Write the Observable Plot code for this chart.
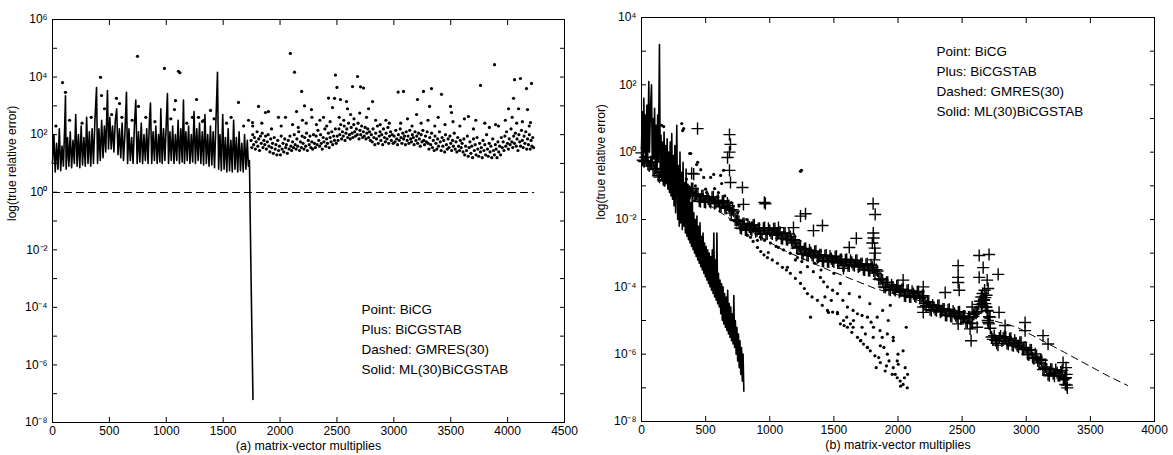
<!DOCTYPE html>
<html>
<head>
<meta charset="utf-8">
<script src="https://cdn.jsdelivr.net/npm/d3@7"></script>
<script src="https://cdn.jsdelivr.net/npm/@observablehq/plot@0.6"></script>
<style>
  html, body { margin: 0; padding: 0; background: #fff; }
  #wrap { display: flex; width: 1173px; height: 455px; }
</style>
</head>
<body>
<div id="wrap"></div>
<script>
// ---- Data (y values stored as log10 of the true relative error) ----
const legendLabels = ["Point: BiCG", "Plus: BiCGSTAB", "Dashed: GMRES(30)", "Solid: ML(30)BiCGSTAB"];
const xLabelA = "(a) matrix-vector multiplies";
const xLabelB = "(b) matrix-vector multiplies";
const yLabel = "log(true relative error)";
const xTicksA = [0, 500, 1000, 1500, 2000, 2500, 3000, 3500, 4000, 4500];
const xTicksB = [0, 500, 1000, 1500, 2000, 2500, 3000, 3500, 4000];
const yTicksA = [1e-8, 1e-7, 1e-6, 1e-5, 1e-4, 1e-3, 1e-2, 1e-1, 1e0, 1e1, 1e2, 1e3, 1e4, 1e5, 1e6];
const yTicksB = [1e-8, 1e-7, 1e-6, 1e-5, 1e-4, 1e-3, 1e-2, 1e-1, 1e0, 1e1, 1e2, 1e3, 1e4];

// Panel (a): ML(30)BiCGSTAB (solid)
const mlA = [[0,1.0],[12,2.0],[24,0.7],[36,1.7],[48,0.8],[60,2.2],[72,0.75],[84,1.6],[96,0.9],[108,2.4],[114,3.35],[120,0.8],[132,1.9],[144,0.9],[156,2.1],[168,0.85],[180,1.8],[192,1.0],[204,2.7],[216,0.9],[228,2.0],[240,0.85],[252,2.3],[264,0.95],[276,1.9],[288,0.9],[300,2.6],[312,1.0],[324,2.1],[336,0.9],[348,2.2],[360,1.0],[372,2.4],[387,3.64],[396,1.0],[408,2.2],[420,1.1],[432,2.5],[444,1.2],[456,2.3],[468,1.4],[483,3.53],[492,1.5],[504,2.6],[516,1.5],[528,2.3],[540,1.4],[552,2.5],[564,2.9],[576,1.3],[588,2.2],[600,1.2],[612,2.4],[624,1.1],[636,2.0],[650,3.47],[660,1.0],[672,2.2],[684,1.1],[696,1.9],[708,1.0],[720,2.3],[732,3.2],[744,1.0],[756,2.1],[768,1.05],[780,2.4],[792,1.0],[804,2.0],[816,1.1],[828,2.2],[840,1.0],[852,2.5],[861,3.1],[872,1.0],[884,2.1],[896,1.1],[908,2.3],[920,1.0],[932,2.0],[944,1.05],[952,2.9],[964,1.0],[976,2.2],[988,1.1],[1000,2.4],[1010,3.43],[1020,1.0],[1032,2.1],[1044,1.1],[1056,2.3],[1068,1.0],[1080,2.0],[1092,1.1],[1104,2.5],[1116,1.0],[1128,2.2],[1140,1.05],[1151,3.2],[1160,1.0],[1172,2.1],[1184,1.1],[1196,2.3],[1208,1.0],[1220,2.0],[1232,1.05],[1244,2.8],[1256,1.0],[1268,2.2],[1280,1.1],[1292,2.4],[1304,1.0],[1316,2.1],[1328,0.95],[1340,2.7],[1352,1.0],[1364,2.0],[1376,0.9],[1388,2.3],[1400,0.95],[1412,2.1],[1424,0.85],[1436,2.4],[1450,4.17],[1460,0.8],[1472,2.0],[1484,0.75],[1496,2.7],[1508,0.8],[1520,1.9],[1532,0.7],[1544,2.2],[1556,0.75],[1568,1.8],[1580,0.7],[1592,2.5],[1604,0.8],[1616,1.9],[1628,0.7],[1640,2.1],[1652,0.75],[1664,1.7],[1676,0.7],[1688,2.0],[1700,0.8],[1712,1.8],[1722,0.9],[1731,1.1],[1738,-1.0],[1746,-3.2],[1754,-5.2],[1762,-7.2]];

// Panel (a): GMRES(30) (dashed)
const gmresA = [[0,-0.01],[1000,-0.01],[2000,-0.01],[3000,-0.01],[4230,-0.01]];

// Panel (a): BiCG (points)
const bicgA = [
[88,3.81],[114,3.47],[422,3.99],[431,3.36],[457,2.9],[562,3.26],[589,3.08],[747,4.72],[756,2.98],[984,4.3],[1072,2.87],[1081,3.18],[1107,4.2],[1120,4.15],[1266,3.22],[1283,2.6],[1318,2.46],[1389,2.84],[1635,3.12],[1723,2.5],[1758,2.42],[1811,2.98],[1872,2.77],[1898,2.8],[1986,2.6],[2048,2.6],[2090,4.82],[2127,4.17],[2145,2.8],[2190,3.5],[2197,2.5],[2215,3.0],[2276,2.87],[2280,2.6],[2382,2.6],[2426,3.27],[2461,2.94],[2479,3.26],[2487,4.07],[2500,3.64],[2531,3.22],[2584,3.15],[2593,2.9],[2637,3.67],[2681,4.02],[2707,3.66],[2734,3.62],[2778,2.9],[2813,3.15],[3038,3.48],[3085,3.5],[3208,3.22],[3261,3.5],[3314,2.98],[3331,3.6],[3419,3.4],[3498,2.98],[3507,2.77],[3656,2.63],[3762,3.71],[3885,4.43],[3894,2.35],[4008,2.9],[4052,3.26],[4061,3.91],[4096,2.9],[4113,3.95],[4166,3.6],[4175,2.87],[4201,2.42],[4210,3.78],
[30,2.3],[150,2.5],[260,2.4],[340,2.6],[520,2.7],[610,2.6],[700,2.5],[820,2.6],[900,2.45],[1040,2.55],[1180,2.4],[1230,2.6],[1330,2.5],[1420,2.55],[1530,2.4],[1570,2.6],[1680,2.3],
[1760,2.3],[1840,2.4],[1925,2.2],[2010,2.3],[2110,2.35],[2160,2.25],[2230,2.4],[2320,2.35],[2350,2.5],[2410,2.3],[2440,2.45],[2520,2.6],[2560,2.5],[2620,2.7],[2650,2.55],[2700,2.75],[2760,2.6],[2840,2.5],[2880,2.35],[2930,2.5],[2960,2.4],[3060,2.4],[3120,2.55],[3160,2.3],[3200,2.7],[3240,2.4],[3300,2.5],[3360,2.3],[3390,2.6],[3450,2.35],[3520,2.45],[3580,2.3],[3620,2.55],[3700,2.2],[3720,2.5],[3800,2.4],[3840,2.25],[3920,2.3],[3980,2.5],[4040,2.6],[4080,2.4],[4130,2.45],[4190,2.3],
[1745,1.8],[1752,1.55],[1760,2.0],[1768,1.65],[1775,1.9],[1783,1.5],[1790,1.75],[1798,2.1],[1805,1.6],[1812,1.85],[1820,1.45],[1828,1.95],[1835,1.7],[1843,2.05],[1850,1.55],[1858,1.8],[1866,1.65],[1873,1.95],[1880,1.5],[1888,1.75],[1895,2.0],
[1903,1.6],[1911,1.4],[1918,1.85],[1926,1.55],[1934,1.7],[1941,1.35],[1949,1.9],[1957,1.5],[1964,1.65],[1972,1.3],[1980,1.8],[1987,1.45],[1995,1.6],[2003,1.3],[2010,1.95],[2018,1.5],[2026,1.7],[2033,1.4],[2041,1.85],[2049,1.55],[2056,1.65],[2064,1.35],[2072,1.8],[2079,1.5],[2087,1.95],[2095,1.6],
[2102,1.45],[2110,1.75],[2118,1.55],[2125,2.0],[2133,1.65],[2141,1.5],[2148,1.85],[2156,1.6],[2164,2.1],[2171,1.45],[2179,1.75],[2187,1.55],[2194,1.95],[2202,1.7],[2210,1.5],[2217,1.9],[2225,1.6],[2233,2.05],[2240,1.45],[2248,1.8],[2256,1.65],[2263,1.95],[2271,1.55],[2279,1.75],[2286,1.5],[2294,2.0],
[2302,1.7],[2310,1.55],[2317,1.95],[2325,1.65],[2333,2.15],[2340,1.8],[2348,1.6],[2356,2.0],[2363,1.7],[2371,1.5],[2379,1.9],[2386,1.75],[2394,2.2],[2402,1.6],[2409,1.85],[2417,1.7],[2425,2.05],[2432,1.55],[2440,1.9],[2448,1.75],[2455,2.1],[2463,1.65],[2471,1.95],[2478,1.8],[2486,2.2],[2494,1.7],
[2502,1.95],[2510,1.8],[2518,2.2],[2525,2.0],[2533,2.35],[2541,1.85],[2548,2.1],[2556,1.95],[2564,2.3],[2571,1.8],[2579,2.05],[2587,2.2],[2594,1.9],[2602,2.4],[2610,2.0],[2617,1.85],[2625,2.25],[2633,2.05],[2640,1.9],[2648,2.35],[2656,2.1],[2663,1.95],[2671,2.2],[2679,2.0],[2686,2.4],[2694,1.85],[2702,2.15],[2709,2.0],[2717,2.3],[2725,1.9],[2732,2.1],[2740,1.95],[2748,2.25],[2755,1.85],[2763,2.05],[2771,2.2],[2778,1.9],[2786,2.1],[2794,1.8],
[2802,2.0],[2810,1.75],[2817,2.2],[2825,1.9],[2833,1.65],[2840,2.05],[2848,1.85],[2856,2.3],[2863,1.7],[2871,1.95],[2879,2.1],[2886,1.8],[2894,2.0],[2902,1.65],[2909,2.2],[2917,1.9],[2925,1.75],[2932,2.05],[2940,1.85],[2948,2.25],[2955,1.7],[2963,1.95],[2971,2.1],[2978,1.8],[2986,2.0],[2994,1.7],
[3002,1.95],[3010,1.75],[3017,2.15],[3025,1.85],[3033,1.65],[3040,2.0],[3048,1.8],[3056,2.2],[3063,1.9],[3071,1.7],[3079,2.05],[3086,1.85],[3094,1.95],[3102,1.65],[3109,2.1],[3117,1.8],[3125,1.95],[3132,1.7],[3140,2.15],[3148,1.85],[3155,1.75],[3163,2.0],[3171,1.9],[3178,1.65],[3186,2.1],[3194,1.8],[3201,1.95],[3209,1.7],[3217,2.05],[3224,1.85],[3232,1.6],[3240,2.0],[3247,1.75],[3255,2.15],[3263,1.8],[3270,1.65],[3278,1.95],[3286,1.75],[3293,2.1],
[3301,1.7],[3309,1.5],[3316,1.9],[3324,1.65],[3332,2.05],[3339,1.55],[3347,1.8],[3355,1.45],[3362,1.95],[3370,1.7],[3378,1.5],[3385,1.85],[3393,1.6],[3401,2.1],[3408,1.75],[3416,1.45],[3424,1.9],[3431,1.6],[3439,1.8],[3447,1.4],[3454,2.0],[3462,1.65],[3470,1.5],[3477,1.85],[3485,1.55],[3493,1.95],[3500,1.7],[3508,1.45],[3516,1.8],[3523,1.6],[3531,2.05],[3539,1.5],[3546,1.75],[3554,1.4],[3562,1.9],[3569,1.6],[3577,1.45],[3585,1.8],[3592,1.55],
[3600,1.7],[3608,1.4],[3616,1.85],[3623,1.3],[3631,1.6],[3639,1.45],[3646,1.95],[3654,1.25],[3662,1.55],[3669,1.75],[3677,1.35],[3685,1.6],[3692,1.2],[3700,1.85],[3708,1.45],[3715,1.65],[3723,1.3],[3731,1.9],[3738,1.5],[3746,1.25],[3754,1.7],[3761,1.4],[3769,1.55],[3777,1.2],[3784,1.8],[3792,1.45],[3800,1.65],[3807,1.3],[3815,2.0],[3823,1.5],[3830,1.25],[3838,1.7],[3846,1.4],[3853,1.6],[3861,1.2],[3869,1.85],[3876,1.45],[3884,1.3],[3892,1.65],[3899,1.5],[3907,1.2],[3915,1.75],[3922,1.4],[3930,1.6],[3938,1.3],[3945,1.9],
[3953,1.55],[3961,1.75],[3968,1.45],[3976,1.95],[3984,1.6],[3991,2.1],[3999,1.7],[4007,1.5],[4014,1.85],[4022,1.65],[4030,2.2],[4037,1.75],[4045,1.55],[4053,1.95],[4060,1.7],[4068,2.05],[4076,1.6],[4083,1.85],[4091,1.45],[4099,2.0],[4106,1.75],[4114,1.6],[4122,2.15],[4129,1.8],[4137,1.55],[4145,1.95],[4152,1.7],[4160,2.1],[4168,1.5],[4175,1.85],[4183,1.65],[4191,2.0],[4198,1.5],[4206,1.8],[4214,1.6],[4221,1.9],[4228,1.55]
];

// Panel (b): ML(30)BiCGSTAB (solid)
const mlB = [[0,0.1],[6,1.2],[12,-0.2],[18,1.6],[24,0.0],[30,1.1],[36,-0.1],[42,1.4],[48,-0.2],[57,2.1],[62,0.0],[70,1.3],[78,2.0],[84,-0.3],[90,1.0],[96,-0.2],[102,1.3],[108,-0.4],[114,0.8],[120,-0.5],[126,1.1],[132,-0.3],[140,3.2],[146,-0.6],[152,0.5],[158,-0.8],[164,0.3],[170,-0.7],[176,0.6],[182,-1.0],[188,0.2],[194,-0.9],[200,0.4],[206,-1.1],[212,0.0],[218,-1.2],[224,0.3],[230,-1.3],[236,0.55],[242,-1.4],[248,-0.1],[254,-1.6],[260,0.2],[266,-1.8],[275,0.8],[282,-2.0],[288,-0.4],[294,-2.2],[300,0.0],[306,-2.1],[312,-0.6],[318,-2.3],[324,-0.3],[330,-2.2],[336,-0.9],[342,-2.4],[348,-0.5],[354,-2.5],[360,-1.2],[366,-2.6],[372,-1.0],[378,-2.7],[384,-1.5],[390,-2.8],[396,-1.3],[402,-2.9],[408,-1.8],[414,-3.0],[420,-2.0],[426,-3.1],[432,-1.9],[438,-3.2],[444,-2.2],[450,-3.3],[456,-2.1],[462,-3.4],[468,-2.5],[474,-3.5],[480,-2.4],[486,-3.6],[492,-2.7],[498,-3.7],[504,-2.8],[510,-3.8],[516,-2.9],[522,-3.9],[528,-3.0],[534,-4.0],[540,-3.1],[546,-4.1],[552,-2.9],[558,-4.2],[564,-2.4],[570,-4.3],[576,-3.2],[582,-4.4],[588,-2.4],[594,-4.5],[600,-3.6],[606,-4.6],[612,-3.8],[618,-4.8],[624,-3.9],[630,-5.0],[636,-4.0],[642,-5.1],[648,-4.2],[654,-5.2],[660,-4.3],[666,-5.3],[672,-4.1],[678,-5.4],[684,-4.5],[690,-5.5],[696,-4.6],[702,-5.6],[708,-4.8],[714,-5.7],[720,-4.26],[726,-5.8],[732,-5.0],[738,-6.0],[744,-5.2],[750,-6.2],[756,-5.4],[762,-6.4],[768,-5.6],[774,-6.6],[780,-5.8],[786,-6.8],[792,-6.0],[798,-7.1]];

// Panel (b): GMRES(30) (dashed)
const gmresB = [[0,-0.05],[300,-1.0],[700,-2.0],[1100,-2.9],[1459,-3.5],[1822,-4.05],[2300,-4.55],[2600,-4.85],[2928,-5.2],[3300,-5.95],[3629,-6.63],[3790,-6.93]];

// Panel (b): BiCGSTAB (plus)
const bicgstabB = [
[0,-0.02],[20,-0.28],[40,-0.25],[60,-0.41],[80,-0.30],[100,-0.51],[120,-0.50],[140,-0.74],[160,-0.60],[180,-0.85],[200,-0.79],[220,-0.92],[240,-0.80],[260,-0.99],[280,-0.94],[300,-1.14],[320,-0.97],[340,-1.19],[360,-1.11],[380,-1.22],[400,-1.08],[420,-1.28],[440,-1.25],[460,-1.47],[480,-1.29],[500,-1.49],[520,-1.39],[540,-1.49],[560,-1.33],[580,-1.50],[600,-1.43],[620,-1.62],[640,-1.45],[660,-1.67],[680,-1.59],[700,-1.81],[720,-1.75],[740,-2.03],[760,-2.06],[780,-2.27],[800,-2.12],[820,-2.32],[840,-2.22],[860,-2.32],[880,-2.16],[900,-2.33],[920,-2.26],[940,-2.44],[960,-2.24],[980,-2.43],[1000,-2.33],[1020,-2.43],[1040,-2.27],[1060,-2.44],[1080,-2.38],[1100,-2.57],[1120,-2.40],[1140,-2.60],[1160,-2.51],[1180,-2.70],[1200,-2.63],[1220,-2.84],[1240,-2.82],[1260,-3.03],[1280,-2.86],[1300,-3.07],[1320,-2.98],[1340,-3.09],[1360,-2.94],[1380,-3.11],[1400,-3.05],[1420,-3.24],[1440,-3.06],[1460,-3.26],[1480,-3.16],[1500,-3.26],[1520,-3.09],[1540,-3.25],[1560,-3.19],[1580,-3.37],[1600,-3.18],[1620,-3.38],[1640,-3.27],[1660,-3.37],[1680,-3.21],[1700,-3.38],[1720,-3.31],[1740,-3.50],[1760,-3.32],[1780,-3.52],[1800,-3.42],[1820,-3.59],[1840,-3.53],[1860,-3.78],[1880,-3.80],[1900,-4.02],[1920,-3.87],[1940,-4.10],[1960,-4.01],[1980,-4.11],[2000,-3.96],[2020,-4.13],[2040,-4.08],[2060,-4.27],[2080,-4.10],[2100,-4.30],[2120,-4.20],[2140,-4.30],[2160,-4.14],[2180,-4.31],[2200,-4.27],[2220,-4.56],[2240,-4.47],[2260,-4.71],[2280,-4.61],[2300,-4.71],[2320,-4.55],[2340,-4.72],[2360,-4.66],[2380,-4.85],[2400,-4.67],[2420,-4.88],[2440,-4.79],[2460,-4.89],[2480,-4.74],[2500,-4.92],[2520,-4.87],[2540,-5.06],[2560,-4.89],[2580,-5.09],[2600,-4.78],[2620,-4.74],[2640,-4.43],[2660,-4.49],[2680,-4.32],[2700,-4.72],[2720,-5.23],[2740,-5.56],[2760,-5.59],[2780,-5.73],[2800,-5.46],[2820,-5.53],[2840,-5.49],[2860,-5.70],[2880,-5.53],[2900,-5.75],[2920,-5.67],[2940,-5.79],[2960,-5.65],[2980,-5.84],[3000,-5.81],[3020,-6.02],[3040,-5.88],[3060,-6.13],[3080,-6.09],[3100,-6.26],[3120,-6.18],[3140,-6.42],[3160,-6.44],[3180,-6.64],[3200,-6.45],[3220,-6.65],[3240,-6.55],[3260,-6.64],[3280,-6.48],[3300,-6.72],[3310,-6.70],[3317,-6.92],
[10,-0.24],[30,-0.15],[50,-0.35],[70,-0.29],[90,-0.52],[110,-0.48],[130,-0.70],[150,-0.59],[170,-0.82],[190,-0.70],[210,-0.87],[230,-0.79],[250,-1.01],[270,-0.94],[290,-1.13],[310,-0.98],[330,-1.17],[350,-1.03],[370,-1.19],[390,-1.08],[410,-1.30],[430,-1.24],[450,-1.45],[470,-1.30],[490,-1.48],[510,-1.32],[530,-1.46],[550,-1.34],[570,-1.53],[590,-1.44],[610,-1.61],[630,-1.46],[650,-1.65],[670,-1.51],[690,-1.72],[710,-1.71],[730,-2.01],[750,-2.02],[770,-2.25],[790,-2.12],[810,-2.31],[830,-2.15],[850,-2.29],[870,-2.17],[890,-2.36],[910,-2.27],[930,-2.44],[950,-2.26],[970,-2.43],[990,-2.26],[1010,-2.40],[1030,-2.28],[1050,-2.47],[1070,-2.38],[1090,-2.56],[1110,-2.41],[1130,-2.59],[1150,-2.43],[1170,-2.63],[1190,-2.60],[1210,-2.85],[1230,-2.80],[1250,-3.01],[1270,-2.87],[1290,-3.06],[1310,-2.91],[1330,-3.06],[1350,-2.95],[1370,-3.14],[1390,-3.05],[1410,-3.23],[1430,-3.07],[1450,-3.25],[1470,-3.09],[1490,-3.23],[1510,-3.11],[1530,-3.29],[1550,-3.19],[1570,-3.37],[1590,-3.20],[1610,-3.37],[1630,-3.21],[1650,-3.34],[1670,-3.22],[1690,-3.41],[1710,-3.32],[1730,-3.49],[1750,-3.33],[1770,-3.51],[1790,-3.35],[1810,-3.53],[1830,-3.49],[1850,-3.77],[1870,-3.76],[1890,-4.00],[1910,-3.87],[1930,-4.08],[1950,-3.94],[1970,-4.08],[1990,-3.97],[2010,-4.16],[2030,-4.08],[2050,-4.26],[2070,-4.11],[2090,-4.29],[2110,-4.13],[2130,-4.27],[2150,-4.15],[2170,-4.34],[2190,-4.26],[2210,-4.50],[2230,-4.44],[2250,-4.68],[2270,-4.54],[2290,-4.68],[2310,-4.56],[2330,-4.75],[2350,-4.66],[2370,-4.84],[2390,-4.68],[2410,-4.87],[2430,-4.72],[2450,-4.86],[2470,-4.75],[2490,-4.95],[2510,-4.87],[2530,-5.05],[2550,-4.90],[2570,-5.08],[2590,-4.82],[2610,-4.78],[2630,-4.52],[2650,-4.58],[2670,-4.38],[2690,-4.61],[2710,-4.89],[2730,-5.49],[2750,-5.45],[2770,-5.68],[2790,-5.52],[2810,-5.61],[2830,-5.48],[2850,-5.68],[2870,-5.54],[2890,-5.73],[2910,-5.59],[2930,-5.75],[2950,-5.65],[2970,-5.86],[2990,-5.80],[3010,-6.00],[3030,-5.87],[3050,-6.10],[3070,-5.99],[3090,-6.20],[3110,-6.15],[3130,-6.46],[3150,-6.38],[3170,-6.61],[3190,-6.45],[3210,-6.58],[3230,-6.46],[3250,-6.64],[3270,-6.53],[3290,-6.76],
[2650,-4.3],[2660,-4.2],[2670,-4.4],[2680,-4.5],[2690,-4.25],[2675,-4.1],[2685,-4.6],[2695,-4.7],[2700,-5.0],[2710,-5.1],[3310,-6.4],[3315,-6.6],[3320,-7.0],[3305,-6.9],
[437,0.7],[686,0.52],[694,0.23],[686,0.0],[671,-0.16],[686,-0.54],[694,-0.9],[407,-0.65],[391,-0.63],[787,-1.05],[958,-1.49],[795,-1.55],[966,-1.53],[1240,-1.9],[1279,-1.83],[1411,-2.18],[1675,-2.56],[1620,-2.83],[1806,-1.53],[1822,-1.85],[1068,-2.24],[1185,-2.24],[1341,-2.33],[1575,-3.45],[1807,-2.4],[1800,-2.7],[1822,-3.0],[1815,-3.2],[1810,-2.55],[1818,-2.85],[2040,-3.8],[2197,-4.0],[2368,-4.17],[2469,-3.37],[2469,-3.72],[2469,-3.87],[2477,-4.1],[2633,-3.07],[2710,-3.04],[2664,-3.43],[2633,-3.72],[2781,-3.63],[2695,-3.8],[2703,-4.05],[2578,-4.6],[2788,-4.76],[2835,-5.15],[2991,-5.06],[2991,-5.3],[3131,-5.45],[3170,-5.7],[3287,-6.25],[2469,-5.1],[2562,-5.25],[2617,-5.2],[2570,-5.6],[2197,-4.6],[2197,-4.76],[2718,-4.9],[2703,-5.06]
];

// Panel (b): BiCG (points)
const bicgB = [
[157,0.8],[173,0.76],[314,0.85],[321,0.64],[329,0.7],[376,-0.04],[384,-0.04],[430,-0.37],[438,-0.3],[462,-0.52],[485,-0.75],[508,-1.2],[539,-0.75],[563,-0.66],[570,-1.08],[617,-0.69],[625,-0.93],[640,-0.54],[1240,-0.57],[1247,-0.54],
[250,-0.3],[280,-0.5],[350,-0.8],[420,-1.0],[500,-1.1],[600,-1.2],[650,-1.3],[700,-1.5],[750,-1.8],[760,-1.6],[820,-2.0],[860,-2.1],
[826,-2.47],[850,-2.53],[870,-2.65],[904,-2.83],[930,-2.95],[955,-3.05],[982,-3.13],[1020,-3.2],[1060,-3.3],[1099,-3.42],[1130,-3.5],[1161,-3.6],[1200,-3.75],[1240,-3.9],[1270,-4.05],[1294,-4.2],[1330,-4.3],[1372,-4.4],[1410,-4.55],[1450,-4.7],[1490,-4.75],[1528,-4.8],[1551,-5.1],[1580,-5.15],[1606,-5.2],[1640,-5.35],[1684,-5.5],[1710,-5.6],[1731,-5.7],[1760,-5.8],[1784,-5.9],[1820,-6.05],[1862,-6.25],[1910,-6.35],[1963,-6.4],[1994,-6.7],[2017,-6.8],[2040,-6.9],[2072,-7.0],
[928,-2.53],[960,-2.62],[1006,-2.7],[1050,-2.8],[1107,-2.9],[1160,-3.0],[1216,-3.13],[1250,-3.25],[1294,-3.4],[1340,-3.55],[1395,-3.72],[1420,-3.85],[1450,-4.0],[1490,-4.1],[1528,-4.2],[1570,-4.4],[1606,-4.6],[1650,-4.7],[1684,-4.8],[1720,-4.85],[1762,-4.9],[1790,-5.05],[1809,-5.2],[1860,-5.3],[1917,-5.4],[1963,-5.6],[2002,-6.3],[2056,-6.4],[2040,-5.9],[2064,-5.2],[1978,-6.6],
[904,-2.62],[989,-2.98],[1068,-2.83],[1138,-3.42],[1240,-3.57],[1318,-4.9],[1458,-4.76],[1528,-4.76],[1575,-5.0],[1629,-5.1],[1653,-5.0],[1746,-5.4],[1707,-5.6],[1807,-5.5],[1877,-5.5],[1838,-4.9],[1862,-5.75],[1762,-5.8],[1917,-6.0],[1994,-6.2],[1955,-6.6],[1924,-5.0],[1940,-4.55],[1963,-5.5],[2020,-6.95],[2075,-6.6],[1700,-4.3],[1780,-4.5],[1620,-4.2],[1500,-3.6],[1550,-3.9],[1880,-4.7],[1350,-3.3],[1400,-3.5],[1200,-3.2],[1430,-4.3],[1480,-4.4],[1600,-4.9],[1650,-5.2],[1720,-5.2],[1850,-6.1],[1890,-5.8],[2000,-6.0],[2050,-6.7],[1830,-6.4],[1900,-6.5],[1930,-6.2]
];

// ---- Rendering ----
const SUP = {"0":"⁰","1":"¹","2":"²","3":"³","4":"⁴","5":"⁵","6":"⁶","7":"⁷","8":"⁸","9":"⁹","-":"⁻"};
const decadeLabel = d => {
  const e = Math.round(Math.log10(d));
  if (e % 2 !== 0) return "";
  return "10" + String(e).split("").map(c => SUP[c]).join("");
};
const FONT = "'Liberation Sans', Arial, Helvetica, sans-serif";
const X = d => d[0];
const Y = d => 10 ** d[1];

function panel({width, margins, xDomain, yDomain, xTicks, yTicks, xLabel, legendDx, legendDy, legendLH, series}) {
  const [mt, mr, mb, ml] = margins;
  return Plot.plot({
    width, height: 455,
    marginTop: mt, marginRight: mr, marginBottom: mb, marginLeft: ml,
    style: {fontFamily: FONT, fontSize: "12px", color: "black", background: "white", overflow: "visible"},
    x: {domain: xDomain},
    y: {type: "log", domain: yDomain},
    marks: [
      ...series,
      Plot.frame({stroke: "black", strokeWidth: 1}),
      Plot.axisX({anchor: "bottom", ticks: xTicks, tickSize: -5, tickPadding: 9, tickFormat: d => String(d), label: null, fontSize: 12}),
      Plot.axisX({anchor: "top", ticks: xTicks, tickSize: -5, tickFormat: () => "", label: null}),
      Plot.axisY({anchor: "left", ticks: yTicks, tickSize: -5, tickPadding: 10, tickFormat: decadeLabel, label: null, fontSize: 12}),
      Plot.axisY({anchor: "right", ticks: yTicks, tickSize: -5, tickFormat: () => "", label: null}),
      Plot.text([xLabel], {frameAnchor: "bottom", dy: 27, text: d => d, fontSize: 12.4}),
      Plot.text([yLabel], {frameAnchor: "left", dx: -40, rotate: -90, text: d => d, fontSize: 12}),
      Plot.text([legendLabels.join("\n")], {frameAnchor: "top-left", dx: legendDx, dy: legendDy, text: d => d, lineAnchor: "top", lineHeight: legendLH, textAnchor: "start", fontSize: 13.5})
    ]
  });
}

const left = panel({
  width: 590, margins: [19, 26, 33, 52],
  xDomain: [0, 4500], yDomain: [1e-8, 1e6],
  xTicks: xTicksA, yTicks: yTicksA, xLabel: xLabelA,
  legendDx: 309, legendDy: 280, legendLH: 1.48,
  series: [
    Plot.line(gmresA, {x: X, y: Y, stroke: "black", strokeWidth: 1, strokeDasharray: "7,5"}),
    Plot.line(mlA, {x: X, y: Y, stroke: "black", strokeWidth: 1.6}),
    Plot.dot(bicgA, {x: X, y: Y, r: 1.6, fill: "black", stroke: null})
  ]
});

const right = panel({
  width: 583, margins: [17, 19, 34, 51],
  xDomain: [0, 4000], yDomain: [1e-8, 1e4],
  xTicks: xTicksB, yTicks: yTicksB, xLabel: xLabelB,
  legendDx: 295, legendDy: 25, legendLH: 1.46,
  series: [
    Plot.line(gmresB, {x: X, y: Y, stroke: "black", strokeWidth: 1, strokeDasharray: "7,5"}),
    Plot.line(mlB, {x: X, y: Y, stroke: "black", strokeWidth: 1.6}),
    Plot.dot(bicgB, {x: X, y: Y, r: 1.6, fill: "black", stroke: null}),
    Plot.dot(bicgstabB, {x: X, y: Y, symbol: "plus", r: 4, stroke: "black", strokeWidth: 1.4})
  ]
});

const wrap = document.getElementById("wrap");
wrap.appendChild(left);
wrap.appendChild(right);
</script>
</body>
</html>
